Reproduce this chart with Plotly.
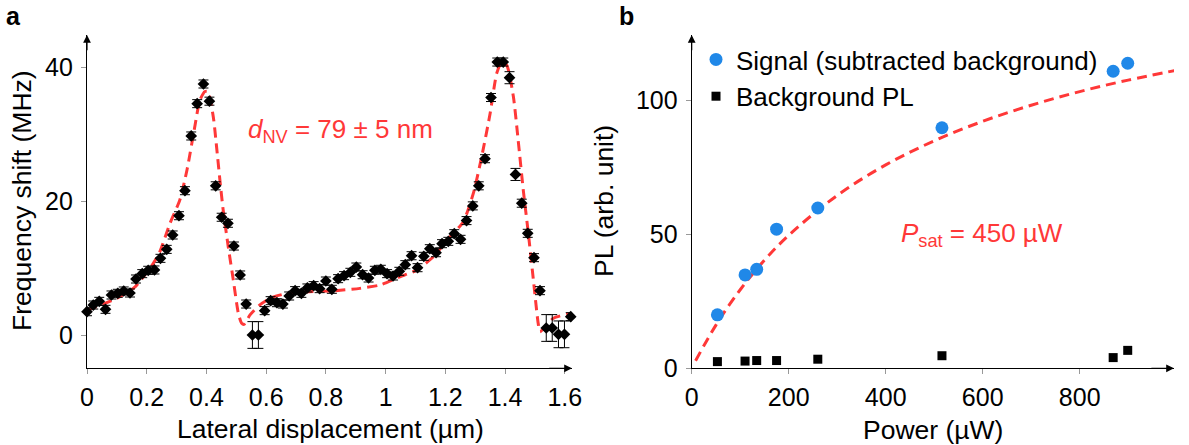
import plotly.graph_objects as go

# ---------------- Panel a data ----------------
x_disp = [0, 0.021, 0.041, 0.062, 0.082, 0.103, 0.123, 0.144, 0.164, 0.185,
          0.205, 0.226, 0.246, 0.267, 0.287, 0.308, 0.328, 0.349, 0.369, 0.390,
          0.410, 0.431, 0.451, 0.472, 0.492, 0.513, 0.533, 0.554, 0.574, 0.595,
          0.615, 0.636, 0.656, 0.677, 0.697, 0.718, 0.738, 0.759, 0.779, 0.800,
          0.820, 0.841, 0.861, 0.882, 0.902, 0.923, 0.943, 0.964, 0.984, 1.005,
          1.025, 1.046, 1.066, 1.087, 1.107, 1.128, 1.148, 1.169, 1.189, 1.210,
          1.230, 1.251, 1.271, 1.292, 1.312, 1.333, 1.353, 1.374, 1.394, 1.415,
          1.435, 1.456, 1.476, 1.497, 1.517, 1.538, 1.558, 1.579, 1.599, 1.620]
freq_shift = [3.48, 4.48, 5.03, 3.84, 5.98, 6.23, 6.58, 6.28, 8.37, 9.17,
              9.67, 9.72, 11.46, 12.8, 14.95, 17.83, 21.57, 29.75, 34.58, 37.52,
              34.95, 22.3, 17.6, 16.7, 13.3, 8.97, 4.63, 0.0, 0.0, 3.64,
              5.13, 4.83, 4.63, 5.83, 6.63, 6.23, 7.03, 7.38, 6.93, 8.07,
              6.83, 8.42, 8.87, 9.37, 10.16, 9.01, 8.52, 9.67, 9.82, 9.17,
              8.82, 9.52, 10.51, 11.85, 10.06, 11.76, 12.9, 12.3, 13.65, 14.0,
              15.14, 14.3, 17.1, 19.3, 22.3, 26.35, 35.5, 40.8, 40.8, 38.46,
              24.0, 19.7, 15.2, 11.56, 6.63, 1.05, 1.05, 0.1, 0.1, 2.74]
freq_err = [0.6] * 27 + [2.0, 2.0] + [0.6] * 40 + [0.9, 0.9] + [0.6] * 4 + [2.0, 2.0, 2.0, 2.0] + [0.6]

fit_a_x = [0, 0.101, 0.161, 0.222, 0.244, 0.278, 0.311, 0.335, 0.362, 0.378,
           0.395, 0.405, 0.423, 0.434, 0.445, 0.456, 0.473, 0.490, 0.507, 0.518,
           0.526, 0.546, 0.579, 0.619, 0.669, 0.758, 0.825, 0.914, 0.981, 1.048,
           1.104, 1.160, 1.216, 1.260, 1.294, 1.322, 1.350, 1.372, 1.389, 1.406,
           1.428, 1.444, 1.461, 1.478, 1.495, 1.511, 1.517, 1.562, 1.607, 1.623]
fit_a_y = [3.7, 5.5, 7.2, 10.7, 12.45, 16.7, 20.2, 24.7, 31.4, 35.1,
           36.4, 36.4, 32.6, 28.1, 23.2, 18.7, 13.2, 8.2, 3.2, 1.75,
           1.6, 3.0, 4.5, 5.6, 6.2, 6.5, 6.6, 6.97, 7.47, 8.7,
           9.7, 11.7, 14.7, 16.9, 21.2, 26.7, 33.1, 39.1, 40.8, 40.3,
           35.6, 29.1, 21.7, 15.2, 8.2, 1.75, 0.5, 2.5, 3.1, 3.2]

a_xticks = [0, 0.2, 0.4, 0.6, 0.8, 1.0, 1.2, 1.4, 1.6]
a_xticklabels = ["0", "0.2", "0.4", "0.6", "0.8", "1", "1.2", "1.4", "1.6"]
a_yticks = [0, 20, 40]

# ---------------- Panel b data ----------------
power_sig = [53, 110, 134, 175, 260, 516, 869, 899]
pl_sig = [20.0, 34.9, 37.0, 52.0, 59.9, 89.9, 111.0, 114.0]
power_bg = [53, 110, 134, 175, 260, 516, 869, 899]
pl_bg = [2.5, 2.7, 2.9, 2.9, 3.4, 4.7, 4.0, 6.7]
fit_b_x = [8, 50, 100, 150, 200, 300, 400, 500, 600, 700, 800, 900, 1000]
fit_b_y = [2.82, 16.15, 29.36, 40.38, 49.69, 64.6, 76.0, 85.0, 92.3, 98.3, 103.4, 107.7, 111.4]

b_xticks = [0, 200, 400, 600, 800]
b_yticks = [0, 50, 100]

# ---------------- styling ----------------
W, H = 1189, 445
FONT = "Liberation Sans, Arial, Helvetica, sans-serif"
RED = "#FF3838"
BLUE = "#2088E8"
TICKC = "#999999"
FS_TICK = 25
FS_TITLE = 26.5
FS_TEXT = 26

def px_x(p):
    return p / W

def px_y(p):
    return 1 - p / H

a_dom_x = [px_x(87), px_x(572)]
b_dom_x = [px_x(691.7), px_x(1174)]
dom_y = [px_y(368.3), px_y(35)]

a_xrange = [0, 485 / 298.6]
a_yrange = [-33.3 / 6.69, 300 / 6.69]
b_xrange = [0, (1174 - 691.7) / 0.485]
b_yrange = [0, 333.3 / 2.676]

fig = go.Figure()

# Panel a
fig.add_trace(go.Scatter(
    x=fit_a_x, y=fit_a_y, mode="lines",
    line=dict(color=RED, width=3, dash="10px,6px", shape="spline", smoothing=0.6),
    xaxis="x", yaxis="y", showlegend=False, hoverinfo="skip", cliponaxis=False))
fig.add_trace(go.Scatter(
    x=x_disp, y=freq_shift, mode="markers",
    marker=dict(symbol="diamond", size=9, color="black"),
    error_y=dict(type="data", array=freq_err, visible=True, color="black", thickness=1, width=5),
    xaxis="x", yaxis="y", showlegend=False, cliponaxis=False))

# Panel b
fig.add_trace(go.Scatter(
    x=fit_b_x, y=fit_b_y, mode="lines",
    line=dict(color=RED, width=3, dash="10px,6px", shape="spline"),
    xaxis="x2", yaxis="y2", showlegend=False, hoverinfo="skip", cliponaxis=False))
fig.add_trace(go.Scatter(
    x=power_sig, y=pl_sig, mode="markers", name="Signal (subtracted background)",
    marker=dict(symbol="circle", size=13, color=BLUE),
    xaxis="x2", yaxis="y2", cliponaxis=False))
fig.add_trace(go.Scatter(
    x=power_bg, y=pl_bg, mode="markers", name="Background PL",
    marker=dict(symbol="square", size=9, color="black"),
    xaxis="x2", yaxis="y2", cliponaxis=False))

tickfont = dict(family=FONT, size=FS_TICK, color="black")
base = dict(showgrid=False, zeroline=False, ticklen=5, tickwidth=1, tickcolor=TICKC,
            tickfont=tickfont, fixedrange=True, automargin=False)
main = dict(showline=True, linecolor="black", linewidth=1.2, ticks="outside", **base)
over = dict(showline=False, ticks="inside", showticklabels=False, **base)

fig.update_layout(
    width=W, height=H, margin=dict(l=0, r=0, t=0, b=0, autoexpand=False),
    paper_bgcolor="white", plot_bgcolor="white",
    font=dict(family=FONT, size=FS_TEXT, color="black"),
    xaxis=dict(domain=a_dom_x, range=a_xrange, anchor="y", tickvals=a_xticks, ticktext=a_xticklabels,
               ticklabelstandoff=2, **main),
    yaxis=dict(domain=dom_y, range=a_yrange, anchor="x", tickvals=a_yticks, ticklabelstandoff=3, **main),
    xaxis3=dict(domain=a_dom_x, range=a_xrange, anchor="y", overlaying="x", tickvals=a_xticks, **over),
    yaxis3=dict(domain=dom_y, range=a_yrange, anchor="x", overlaying="y", tickvals=a_yticks, **over),
    xaxis2=dict(domain=b_dom_x, range=b_xrange, anchor="y2", tickvals=b_xticks, ticklabelstandoff=2, **main),
    yaxis2=dict(domain=dom_y, range=b_yrange, anchor="x2", tickvals=b_yticks, ticklabelstandoff=3, **main),
    xaxis4=dict(domain=b_dom_x, range=b_xrange, anchor="y2", overlaying="x2", tickvals=b_xticks, **over),
    yaxis4=dict(domain=dom_y, range=b_yrange, anchor="x2", overlaying="y2", tickvals=b_yticks, **over),
    legend=dict(x=px_x(696), y=px_y(36), xanchor="left", yanchor="top", bgcolor="rgba(0,0,0,0)",
                font=dict(family=FONT, size=FS_TEXT, color="black"), tracegroupgap=0),
)

ann = []
# arrowheads at the ends of the axes
for xr, yr in (("x", "y"), ("x2", "y2")):
    ann.append(dict(x=1, y=0, ax=0.95, ay=0, xref=f"{xr} domain", yref=f"{yr} domain",
                    axref=f"{xr} domain", ayref=f"{yr} domain", text="", showarrow=True,
                    arrowhead=2, arrowsize=1.3, arrowwidth=1.2, arrowcolor="black", standoff=0, startstandoff=0))
    ann.append(dict(x=0, y=1, ax=0, ay=0.95, xref=f"{xr} domain", yref=f"{yr} domain",
                    axref=f"{xr} domain", ayref=f"{yr} domain", text="", showarrow=True,
                    arrowhead=2, arrowsize=1.3, arrowwidth=1.2, arrowcolor="black", standoff=0, startstandoff=0))

def txt(t, x, y, xanchor="center", yanchor="middle", angle=0, color="black", size=FS_TEXT):
    return dict(text=t, x=px_x(x), y=px_y(y), xref="paper", yref="paper", showarrow=False,
                xanchor=xanchor, yanchor=yanchor, textangle=angle,
                font=dict(family=FONT, size=size, color=color))

ann += [
    txt("<b>a</b>", 13, 16, size=25),
    txt("<b>b</b>", 626, 16, size=25),
    txt("Frequency shift (MHz)", 22, 201, angle=-90, size=FS_TITLE),
    txt("Lateral displacement (µm)", 330, 429, size=FS_TITLE),
    txt("PL (arb. unit)", 604, 201, angle=-90, size=FS_TITLE),
    txt("Power (µW)", 933, 430, size=FS_TITLE),
    txt("<i>d</i><sub>NV</sub> = 79 ± 5 nm", 341, 131, color=RED),
    txt("<i>P</i><sub>sat</sub> = 450 µW", 982, 234, color=RED),
]
fig.update_layout(annotations=ann)

fig.write_html("out.html", config={"displayModeBar": False},
               post_script="document.body.style.margin='0';document.body.style.overflow='hidden';")
